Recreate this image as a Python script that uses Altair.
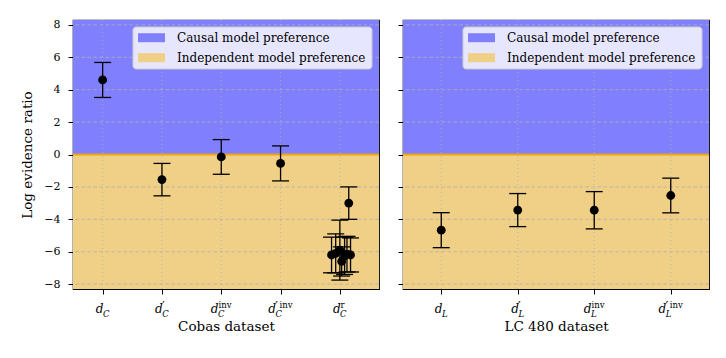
import altair as alt
import pandas as pd

# ---------------- data ----------------
cobas_pos = [0, 1, 2, 3]
cobas_vals = [4.6, -1.55, -0.15, -0.55]
cobas_err = [1.08, 1.0, 1.07, 1.08]

r_pos = [3.86, 3.93, 4.0, 4.03, 4.08, 4.12, 4.18, 4.15]
r_vals = [-6.2, -6.1, -5.9, -6.6, -6.25, -6.15, -6.2, -3.0]
r_err = [1.1, 1.2, 1.85, 0.9, 1.15, 1.1, 1.05, 1.0]

lc_pos = [0, 1, 2, 3]
lc_vals = [-4.67, -3.43, -3.44, -2.53]
lc_err = [1.08, 1.02, 1.15, 1.07]

cobas_tick_pos = [0, 1, 2, 3, 4]
cobas_tick_sub = ["C", "C", "C", "C", "C"]
cobas_tick_prime = ["", "′", "", "′", ""]
cobas_tick_sup = ["", "", "inv", "inv", "r"]

lc_tick_pos = [0, 1, 2, 3]
lc_tick_sub = ["L", "L", "L", "L"]
lc_tick_prime = ["", "′", "", "′"]
lc_tick_sup = ["", "", "inv", "inv"]

y_ticks = [-8, -6, -4, -2, 0, 2, 4, 6, 8]
region_names = ["Causal model preference", "Independent model preference"]
region_lo = [0, -8.3]
region_hi = [8.3, 0]

# ---------------- style ----------------
W, H = 306, 269
FONT = "DejaVu Serif"
BLUE = "#8080ff"
ORANGE = "#f0cf86"
Y_DOMAIN = [-8.3, 8.3]

# approximate glyph widths used to centre the composed tick labels
D_W = 7.7
PRIME_W = 3.6
SUB_W = {"C": 6.2, "L": 5.4}
SUP_W = {"": 0.0, "inv": 13.2, "r": 4.1}

# legend box geometry (pixels, relative to the plot area)
LEG_X0, LEG_X1, LEG_Y0, LEG_Y1 = 60, 299, 7, 49
LEG_SYM_X0, LEG_SYM_X1, LEG_TXT_X = 65, 92, 104
LEG_ROW0, LEG_ROW_STEP, LEG_SYM_H = 17.7, 20, 9

color_scale = alt.Scale(domain=region_names, range=[BLUE, ORANGE])


def tick_table(pos, subs, primes, sups, x_domain):
    ppu = W / (x_domain[1] - x_domain[0])  # pixels per data unit
    rows = []
    for p, s, pr, u in zip(pos, subs, primes, sups):
        pw = PRIME_W if pr else 0.0
        total = D_W + max(SUB_W[s], pw + SUP_W[u])
        left = -total / 2
        rows.append({"p": p, "main": "d", "sub": s, "prime": pr, "sup": u,
                     "xd": p + left / ppu,
                     "xs": p + (left + D_W - 0.5) / ppu,
                     "xp": p + (left + D_W - 0.8) / ppu,
                     "xu": p + (left + D_W + pw) / ppu})
    return pd.DataFrame(rows)


def legend_layers():
    box = alt.Chart(pd.DataFrame({"k": [0]})).mark_rect(
        fill="white", fillOpacity=0.8, stroke="#cccccc", strokeWidth=1, cornerRadius=3
    ).encode(x=alt.value(LEG_X0), x2=alt.value(LEG_X1),
             y=alt.value(LEG_Y0), y2=alt.value(LEG_Y1))
    out = [box]
    for i, name in enumerate(region_names):
        row = pd.DataFrame({"region": [name]})
        cy = LEG_ROW0 + LEG_ROW_STEP * i
        sym = alt.Chart(row).mark_rect().encode(
            x=alt.value(LEG_SYM_X0), x2=alt.value(LEG_SYM_X1),
            y=alt.value(cy - LEG_SYM_H / 2), y2=alt.value(cy + LEG_SYM_H / 2),
            color=alt.Color("region:N", scale=color_scale, legend=None))
        txt = alt.Chart(row).mark_text(
            font=FONT, fontSize=12, align="left", baseline="middle", color="black"
        ).encode(x=alt.value(LEG_TXT_X), y=alt.value(cy), text="region:N")
        out += [sym, txt]
    return out


def panel(pos, vals, errs, tick_df, x_domain, title, show_y):
    pts = pd.DataFrame({"p": pos, "v": vals, "e": errs})
    pts["lo"] = pts["v"] - pts["e"]
    pts["hi"] = pts["v"] + pts["e"]

    xs = alt.Scale(domain=x_domain, nice=False, zero=False)
    ys = alt.Scale(domain=Y_DOMAIN, nice=False, zero=False)
    xaxis = alt.Axis(values=list(tick_df["p"]), labels=False, ticks=True, tickSize=5,
                     grid=False, domain=False, title=title, titlePadding=25)
    if show_y:
        yaxis = alt.Axis(values=y_ticks, tickSize=5, grid=False, domain=False,
                         labelPadding=8, title="Log evidence ratio", titlePadding=9)
    else:
        yaxis = alt.Axis(values=y_ticks, tickSize=5, grid=False, domain=False,
                         labels=False, title="")

    regions = pd.DataFrame({"region": region_names, "lo": region_lo, "hi": region_hi})
    rect = alt.Chart(regions).mark_rect(opacity=1).encode(
        x=alt.value(0), x2=alt.value(W),
        y=alt.Y("lo:Q", scale=ys, axis=yaxis),
        y2="hi:Q",
        color=alt.Color("region:N", scale=color_scale, legend=None),
    )

    ygrid = alt.Chart(pd.DataFrame({"v": y_ticks})).mark_rule(
        color="#b0b0b0", strokeWidth=0.8, strokeDash=[3.5, 2.5]
    ).encode(y=alt.Y("v:Q", scale=ys, axis=yaxis))

    xgrid = alt.Chart(tick_df).mark_rule(
        color="#b0b0b0", strokeWidth=0.8, strokeDash=[1, 3]
    ).encode(x=alt.X("p:Q", scale=xs, axis=xaxis))

    zero = alt.Chart(pd.DataFrame({"v": [0]})).mark_rule(
        color="#f0a30a", strokeWidth=2
    ).encode(y=alt.Y("v:Q", scale=ys, axis=yaxis))

    base = alt.Chart(pts)
    bars = base.mark_rule(color="black", strokeWidth=1.3).encode(
        x=alt.X("p:Q", scale=xs, axis=xaxis),
        y=alt.Y("lo:Q", scale=ys, axis=yaxis), y2="hi:Q")
    cap_lo = base.mark_tick(color="black", orient="horizontal", size=17,
                            thickness=1.3, opacity=1).encode(
        x=alt.X("p:Q", scale=xs, axis=xaxis), y=alt.Y("lo:Q", scale=ys, axis=yaxis))
    cap_hi = base.mark_tick(color="black", orient="horizontal", size=17,
                            thickness=1.3, opacity=1).encode(
        x=alt.X("p:Q", scale=xs, axis=xaxis), y=alt.Y("hi:Q", scale=ys, axis=yaxis))
    dots = base.mark_circle(color="black", size=78, opacity=1).encode(
        x=alt.X("p:Q", scale=xs, axis=xaxis), y=alt.Y("v:Q", scale=ys, axis=yaxis))

    tb = alt.Chart(tick_df)
    t_main = tb.mark_text(font=FONT, fontSize=12, fontStyle="italic", align="left",
                          baseline="alphabetic", color="black").encode(
        x=alt.X("xd:Q", scale=xs, axis=xaxis),
        y=alt.value(H + 24), text="main:N")
    t_prime = tb.mark_text(font=FONT, fontSize=12, align="left",
                           baseline="alphabetic", color="black").encode(
        x=alt.X("xp:Q", scale=xs, axis=xaxis),
        y=alt.value(H + 21.5), text="prime:N")
    t_sub = tb.mark_text(font=FONT, fontSize=8.5, fontStyle="italic", align="left",
                         baseline="alphabetic", color="black").encode(
        x=alt.X("xs:Q", scale=xs, axis=xaxis),
        y=alt.value(H + 28), text="sub:N")
    t_sup = tb.mark_text(font=FONT, fontSize=8.5, align="left",
                         baseline="alphabetic", color="black").encode(
        x=alt.X("xu:Q", scale=xs, axis=xaxis),
        y=alt.value(H + 18.5), text="sup:N")

    layers = [rect, ygrid, xgrid, zero, bars, cap_lo, cap_hi, dots,
              t_main, t_prime, t_sub, t_sup] + legend_layers()
    return alt.layer(*layers).properties(width=W, height=H)


cobas_x = [-0.5, 4.66]
lc_x = [-0.5, 3.5]
left = panel(cobas_pos + r_pos, cobas_vals + r_vals, cobas_err + r_err,
             tick_table(cobas_tick_pos, cobas_tick_sub, cobas_tick_prime,
                        cobas_tick_sup, cobas_x),
             cobas_x, "Cobas dataset", True)
right = panel(lc_pos, lc_vals, lc_err,
              tick_table(lc_tick_pos, lc_tick_sub, lc_tick_prime, lc_tick_sup, lc_x),
              lc_x, "LC 480 dataset", False)

chart = alt.hconcat(left, right, spacing=15).resolve_scale(
    x="independent", y="independent"
).properties(
    padding={"left": 12, "top": 10, "right": 0, "bottom": 0}
).configure(
    font=FONT
).configure_view(
    stroke="black", strokeWidth=1.2
).configure_axis(
    labelFont=FONT, titleFont=FONT, labelFontSize=11, titleFontSize=13.5,
    labelColor="black", titleColor="black", titleFontWeight="normal",
    tickColor="black", tickWidth=1
)

chart.save("out.html", embed_options={"renderer": "svg", "actions": False})
